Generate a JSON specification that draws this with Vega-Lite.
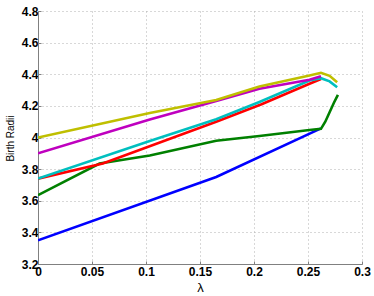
{
  "$schema": "https://vega.github.io/schema/vega-lite/v6.json",
  "autosize": {"type": "none"},
  "padding": {"left": 38, "top": 11, "right": 12, "bottom": 32},
  "width": 324,
  "height": 253,
  "background": "white",
  "config": {
    "view": {"stroke": null},
    "axis": {
      "labelFont": "Liberation Sans",
      "labelFontWeight": "bold",
      "labelFontSize": 12,
      "labelColor": "black",
      "domainColor": "#808080",
      "tickColor": "#808080",
      "gridColor": "#b0b0b0",
      "gridDash": [1, 3],
      "gridWidth": 1,
      "tickSize": -3,
      "titleFont": "Liberation Sans",
      "titleColor": "black",
      "titleFontWeight": "normal"
    }
  },
  "data": {
    "values": [
      {"s": "blue", "x": 0, "y": 3.35},
      {"s": "blue", "x": 0.165, "y": 3.75},
      {"s": "blue", "x": 0.262, "y": 4.058},
      {"s": "green", "x": 0, "y": 3.635},
      {"s": "green", "x": 0.057, "y": 3.835},
      {"s": "green", "x": 0.1035, "y": 3.886},
      {"s": "green", "x": 0.165, "y": 3.98},
      {"s": "green", "x": 0.205, "y": 4.009},
      {"s": "green", "x": 0.2514, "y": 4.047},
      {"s": "green", "x": 0.262, "y": 4.055},
      {"s": "green", "x": 0.266, "y": 4.1},
      {"s": "green", "x": 0.27, "y": 4.16},
      {"s": "green", "x": 0.274, "y": 4.22},
      {"s": "green", "x": 0.2777, "y": 4.27},
      {"s": "red", "x": 0, "y": 3.74},
      {"s": "red", "x": 0.06, "y": 3.835},
      {"s": "red", "x": 0.165, "y": 4.1},
      {"s": "red", "x": 0.207, "y": 4.21},
      {"s": "red", "x": 0.2514, "y": 4.34},
      {"s": "red", "x": 0.262, "y": 4.37},
      {"s": "cyan", "x": 0, "y": 3.74},
      {"s": "cyan", "x": 0.1035, "y": 3.978},
      {"s": "cyan", "x": 0.165, "y": 4.115},
      {"s": "cyan", "x": 0.205, "y": 4.225},
      {"s": "cyan", "x": 0.2514, "y": 4.36},
      {"s": "cyan", "x": 0.262, "y": 4.375},
      {"s": "cyan", "x": 0.27, "y": 4.355},
      {"s": "cyan", "x": 0.277, "y": 4.318},
      {"s": "magenta", "x": 0, "y": 3.9},
      {"s": "magenta", "x": 0.1035, "y": 4.114},
      {"s": "magenta", "x": 0.165, "y": 4.231},
      {"s": "magenta", "x": 0.205, "y": 4.308},
      {"s": "magenta", "x": 0.2514, "y": 4.365},
      {"s": "magenta", "x": 0.262, "y": 4.388},
      {"s": "yellow", "x": 0, "y": 4.0},
      {"s": "yellow", "x": 0.1035, "y": 4.155},
      {"s": "yellow", "x": 0.165, "y": 4.237},
      {"s": "yellow", "x": 0.205, "y": 4.323},
      {"s": "yellow", "x": 0.2514, "y": 4.392},
      {"s": "yellow", "x": 0.262, "y": 4.409},
      {"s": "yellow", "x": 0.27, "y": 4.39},
      {"s": "yellow", "x": 0.277, "y": 4.35}
    ]
  },
  "mark": {"type": "line", "strokeWidth": 2.6, "clip": true},
  "encoding": {
    "x": {
      "field": "x", "type": "quantitative",
      "scale": {"domain": [0, 0.3], "nice": false, "zero": false},
      "axis": {
        "values": [0, 0.05, 0.1, 0.15, 0.2, 0.25, 0.3],
        "format": "~g",
        "title": "λ",
        "titleFontSize": 13,
        "labelPadding": 5,
        "titleY": 17,
        "titleBaseline": "top",
        "labelFlush": false
      }
    },
    "y": {
      "field": "y", "type": "quantitative",
      "scale": {"domain": [3.2, 4.8], "nice": false, "zero": false},
      "axis": {
        "values": [3.2, 3.4, 3.6, 3.8, 4.0, 4.2, 4.4, 4.6, 4.8],
        "format": "~g",
        "title": "Birth Radii",
        "titleFontSize": 10,
        "titleX": -28,
        "titleY": 127,
        "titleAngle": -90,
        "titleAlign": "center",
        "titleBaseline": "middle",
        "labelPadding": 3,
        "labelFlush": false
      }
    },
    "color": {
      "field": "s", "type": "nominal", "legend": null,
      "scale": {
        "domain": ["blue", "green", "red", "cyan", "magenta", "yellow"],
        "range": ["#0000ff", "#008000", "#ff0000", "#00bfbf", "#bf00bf", "#bfbf00"]
      }
    },
    "order": {"field": "x", "type": "quantitative"}
  }
}
